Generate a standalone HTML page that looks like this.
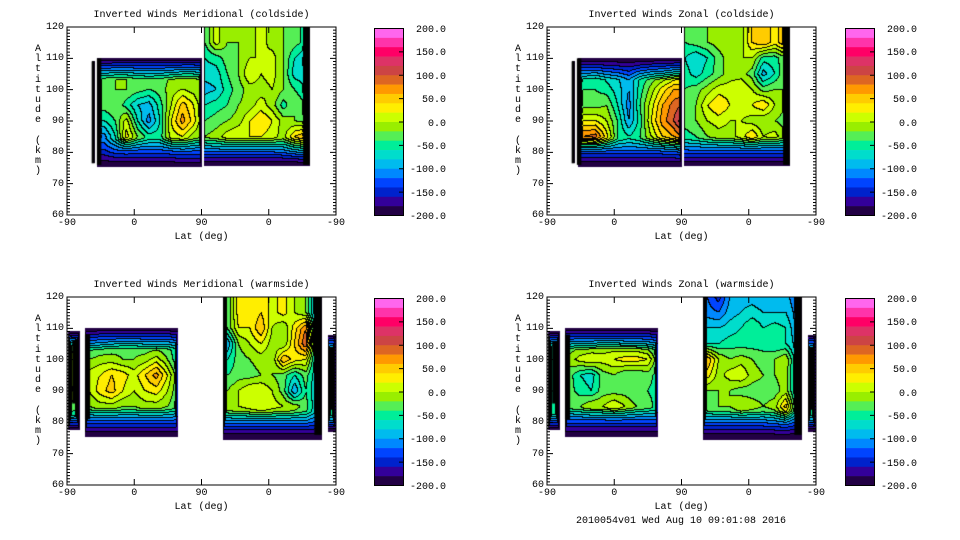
<!DOCTYPE html>
<html><head><meta charset="utf-8">
<style>
body{margin:0;background:#fff;width:960px;height:540px;overflow:hidden;position:relative;font-family:"Liberation Mono",monospace;font-size:10px;color:#000}
.abs{position:absolute;white-space:pre}
canvas{position:absolute}
</style></head><body>
<div id="root"></div>
<script>
// ---- colorbar data ----
const cbColors=["#ff66ee","#ff33aa","#ff0066","#dd3366","#cc4444","#dd6622","#ff9900","#ffcc00","#ffee00","#ccff00","#99ee00","#55ee55","#00ee99","#00ddcc","#00bbee","#0088ff","#0044ff","#0022cc","#330099","#220044"];
const cbTicks=[200,150,100,50,0,-50,-100,-150,-200];
const xTickLabels=["-90","0","90","0","-90"];
const xTickS=[0,90,180,270,360];
const yTicks=[120,110,100,90,80,70,60];
const titles=["Inverted Winds Meridional (coldside)","Inverted Winds Zonal (coldside)","Inverted Winds Meridional (warmside)","Inverted Winds Zonal (warmside)"];

// ---- field data ----
const colsA=[50,65,80,95,110,125,140,155,170,180];
const colsB=[185,200,215,230,245,260,275,290,305,320];
const rowsA=[110,105,100,95,90,85,80,75];
const rowsB=[120,115,110,105,100,95,90,85,80,75];
const colsWA=[30,45,60,75,90,105,120,135,150];
const colsWB=[215,230,245,260,275,290,305,320,335];
const rowsW=[120,115,110,105,100,95,90,85,80,75];
const colsSmallL=[4,15];const colsSmallR=[351,358];const rowsSmall=[110,100,90,80];

const p1A=[[-40,-30,-30,-30,-30,-30,-30,-20,-20,-30],[-30,-20,-20,-30,-30,-30,-20,-10,-10,-20],[-20,-20,-20,-30,-40,-30,-10,0,-10,-20],[-30,-20,-50,-80,-90,-50,0,50,20,-10],[-60,-40,10,-60,-110,-60,20,70,30,-10],[-110,-60,30,-20,-50,-50,10,20,-10,-20],[-100,-70,-60,-70,-70,-70,-60,-50,-60,-60],[-120,-90,-90,-90,-90,-90,-90,-80,-80,-80]];
const p1B=[[-40,10,-20,-20,-10,10,-10,-20,-30,-50],[-40,10,-20,-20,-10,10,-10,-20,-30,-50],[-60,-50,-30,-20,0,0,10,-20,-60,-80],[-70,-70,-40,-20,20,0,10,-20,-70,-70],[-90,-80,-50,-30,-10,-10,0,-20,-40,-60],[-60,-50,-40,-20,-10,10,-10,-50,-20,-40],[-40,-30,-20,-10,20,40,20,-10,-20,-30],[-20,-10,10,20,20,20,10,-10,40,60],[-40,-40,-40,-40,-40,-40,-40,-30,0,20],[-100,-100,-100,-100,-100,-100,-100,-100,-90,-90]];
const p2A=[[-90,-80,-90,-100,-110,-90,-70,-60,-40,-30],[-60,-50,-70,-80,-100,-60,-40,-30,-10,0],[-40,-40,-50,-70,-100,-50,-10,30,60,60],[-30,-30,-20,-60,-110,-40,10,60,90,100],[20,20,0,-40,-100,-50,20,70,100,130],[80,90,30,-40,-60,-40,0,40,60,80],[-60,-60,-60,-60,-60,-60,-60,-60,-50,-40],[-100,-100,-100,-100,-100,-100,-100,-100,-100,-100]];
const p2B=[[-40,-30,-20,-10,0,-10,40,60,30,60],[-40,-30,-20,-10,0,-10,40,60,30,60],[-60,-80,-60,-30,-10,0,0,-50,-50,-20],[-50,-70,-50,-30,-10,-10,-30,-90,-60,-20],[-40,-30,-10,10,10,20,0,-30,-20,-20],[-30,-20,20,40,20,10,20,40,0,-20],[-30,-20,0,10,0,0,-10,-20,-20,-30],[-50,-40,-20,-10,-10,10,40,0,10,-20],[-60,-60,-60,-60,-60,-60,-60,-60,-60,-60],[-100,-100,-100,-100,-100,-100,-100,-100,-100,-100]];
const p3A=[[-70,-60,-60,-60,-60,-60,-60,-60,-80],[-70,-60,-60,-60,-60,-60,-60,-60,-80],[-70,-60,-60,-60,-60,-60,-60,-60,-80],[-60,-50,-40,-30,-30,-40,-40,-40,-60],[-20,-10,-10,-20,-20,-10,10,-20,-60],[10,20,40,30,10,40,70,20,-40],[0,30,50,20,0,20,30,0,-40],[-20,-10,-10,-20,-20,-10,-10,-20,-40],[-60,-60,-60,-60,-60,-60,-60,-60,-70],[-100,-100,-100,-100,-100,-100,-100,-100,-100]];
const p3B=[[-40,30,20,40,10,30,0,-20,-100],[-40,30,20,40,10,30,0,-20,-100],[-40,20,20,60,0,-20,30,80,-100],[-100,-20,0,20,-10,-20,40,100,-80],[-60,-30,-20,-10,-20,60,30,20,-80],[-40,-30,-30,-20,-20,-30,-60,-30,-80],[-20,0,20,20,0,-30,-100,-40,-80],[-10,0,10,20,10,0,-10,-30,-80],[-50,-50,-50,-50,-50,-50,-50,-50,-80],[-100,-100,-100,-100,-100,-100,-100,-100,-110]];
const p4A=[[-70,-70,-70,-70,-70,-70,-70,-70,-80],[-70,-70,-70,-70,-70,-70,-70,-70,-80],[-60,-60,-60,-60,-60,-60,-60,-60,-80],[-40,-30,-30,-20,-20,-30,-30,-40,-60],[-10,10,20,10,20,30,30,20,-40],[-30,-60,-70,-30,-20,-40,-40,-30,-50],[-30,-50,-60,-30,-30,-30,-40,-40,-50],[-30,-20,0,0,20,0,-20,-30,-50],[-70,-70,-70,-70,-70,-70,-70,-70,-70],[-100,-100,-100,-100,-100,-100,-100,-100,-100]];
const p4B=[[-120,-150,-100,-90,-90,-100,-100,-90,-120],[-110,-120,-90,-80,-70,-80,-80,-80,-110],[-80,-80,-70,-60,-40,-60,-50,-60,-100],[-60,-60,-50,-50,-50,-50,-60,-60,-90],[60,0,-20,-10,-20,-30,-20,0,-80],[30,-10,10,20,-10,-20,-20,-10,-80],[-20,-20,-20,-30,-30,-30,-30,-10,-80],[-30,-20,-20,0,-10,-20,-10,50,-60],[-60,-60,-60,-60,-60,-60,-50,-30,-80],[-100,-100,-100,-100,-100,-100,-100,-100,-100]];
const smallCold=[[-60,-60],[-60,-60],[-60,-60],[-60,-60]];
const smallWarmM=[[-60,-60],[0,-20],[10,-20],[-60,-60]];
const smallWarmZ=[[-60,-60],[-40,-50],[-40,-50],[-60,-60]];

// dense-contour (black) bars: [s0,s1,altBottom,altTop]
const barsCold=[[33,37,76.5,109],[40,46,76,110],[316,325,76,120]];
const barsWarm=[[7,13,86,106],[24,31,81,108],[210,214,84,120],[331,341,76,120],[352,357,84,104]];

const panels=[
 {ox:67,oy:27,bars:barsCold,blocks:[
  {g:[33,37,76.5,109,2,2,2,2],c:colsSmallL,r:rowsSmall,v:smallCold},
  {g:[40,180,75.3,110,7,2,9,7],c:colsA,r:rowsA,v:p1A},
  {g:[183,325,75.5,121,2,9,9,0],c:colsB,r:rowsB,v:p1B}]},
 {ox:547,oy:27,bars:barsCold,blocks:[
  {g:[33,37,76.5,109,2,2,2,2],c:colsSmallL,r:rowsSmall,v:smallCold},
  {g:[41,180,75.3,110,7,2,9,7],c:colsA,r:rowsA,v:p2A},
  {g:[183,325,75.5,121,2,9,9,0],c:colsB,r:rowsB,v:p2B}]},
 {ox:67,oy:297,bars:barsWarm,blocks:[
  {g:[2,17,77.5,109,5,5,5,5],c:colsSmallL,r:rowsSmall,v:smallWarmM},
  {g:[24,149,75.4,110,7,4,9,7],c:colsWA,r:rowsW,v:p3A},
  {g:[209,341,74.5,121,5,10,9,0],c:colsWB,r:rowsW,v:p3B},
  {g:[349,360,77,108,4,4,5,5],c:colsSmallR,r:rowsSmall,v:smallCold}]},
 {ox:547,oy:297,bars:barsWarm,blocks:[
  {g:[2,17,77.5,109,5,5,5,5],c:colsSmallL,r:rowsSmall,v:smallWarmZ},
  {g:[24,149,75.4,110,7,4,9,7],c:colsWA,r:rowsW,v:p4A},
  {g:[209,341,74.5,121,5,10,9,0],c:colsWB,r:rowsW,v:p4B},
  {g:[349,360,77,108,4,4,5,5],c:colsSmallR,r:rowsSmall,v:smallCold}]}
];

const W=269,H=188;
const sx=s=>s*W/360, ya=a=>(120-a)*H/60;
function interp(arr,x){
  const n=arr.length;
  const asc=arr[n-1]>arr[0];
  for(let i=0;i<n-1;i++){
    const a=arr[i],b=arr[i+1];
    if((asc&&x<=b)||(!asc&&x>=b)){let t=(x-a)/(b-a);return [i,Math.max(0,Math.min(1,t))];}
  }
  return [n-2,1];
}
function valueAt(blk,s,alt){
  const [s0,s1,a0,a1,wl,wr,wb,wt]=blk.g;
  if(s<s0||s>s1||alt<a0||alt>a1) return null;
  const [ci,ct]=interp(blk.c,Math.max(blk.c[0],Math.min(blk.c[blk.c.length-1],s)));
  const [ri,rt]=interp(blk.r,alt);
  const v=blk.v;
  const v0=v[ri][ci]*(1-ct)+v[ri][ci+1]*ct;
  const v1=v[ri+1][ci]*(1-ct)+v[ri+1][ci+1]*ct;
  const vi=v0*(1-rt)+v1*rt;
  let f=1;
  f=Math.min(f,(s-s0)/wl,(s1-s)/wr,(alt-a0)/wb);
  if(wt>0) f=Math.min(f,(a1-alt)/wt);
  return -200+(vi+200)*Math.max(0,f);
}
function rgb(h){return [parseInt(h.slice(1,3),16),parseInt(h.slice(3,5),16),parseInt(h.slice(5,7),16)];}
const cbRGB=cbColors.map(rgb);

const root=document.getElementById('root');
function addText(txt,x,y,name,align){
  const d=document.createElement('div');
  d.className='abs';d.textContent=txt;
  
  
  d.style.top=y+'px';
  if(align==='c'){d.style.left=(x-200)+'px';d.style.width='400px';d.style.textAlign='center';}
  else if(align==='r'){d.style.left=(x-100)+'px';d.style.width='100px';d.style.textAlign='right';}
  else d.style.left=x+'px';
  root.appendChild(d);return d;
}

panels.forEach((p,pi)=>{
  const cv=document.createElement('canvas');
  cv.width=W;cv.height=H;cv.style.left=p.ox+'px';cv.style.top=p.oy+'px';
  
  
  root.appendChild(cv);
  const ctx=cv.getContext('2d');
  const lev=new Int16Array(W*H).fill(-1);
  for(let y=0;y<H;y++){const alt=120-(y+0.5)*60/H;
    for(let x=0;x<W;x++){const s=(x+0.5)*360/W;
      for(const b of p.blocks){const v=valueAt(b,s,alt);
        if(v!==null){lev[y*W+x]=Math.max(0,Math.min(19,Math.floor((v+200)/20)));break;}}}}
  const img=ctx.createImageData(W,H);
  for(let y=0;y<H;y++)for(let x=0;x<W;x++){
    const i=y*W+x,L=lev[i];let c=[255,255,255];
    if(L>=0){c=cbRGB[19-L];
      const r=x<W-1?lev[i+1]:L,d=y<H-1?lev[i+W]:L;
      if((r>=0&&r!==L)||(d>=0&&d!==L))c=[0,0,0];}
    img.data[i*4]=c[0];img.data[i*4+1]=c[1];img.data[i*4+2]=c[2];img.data[i*4+3]=255;}
  ctx.putImageData(img,0,0);
  ctx.fillStyle='#000';
  p.bars.forEach(b=>{ctx.fillRect(sx(b[0]),ya(b[3]),sx(b[1])-sx(b[0]),ya(b[2])-ya(b[3]));});

  const NS='http://www.w3.org/2000/svg';
  const svg=document.createElementNS(NS,'svg');
  svg.setAttribute('width',W+2);svg.setAttribute('height',H+2);
  svg.style.position='absolute';svg.style.left=(p.ox-1)+'px';svg.style.top=(p.oy-1)+'px';
  
  
  let d=`M1,1H${W+1}V${H+1}H1Z`;
  for(let a=60;a<=120;a++){const y=ya(a)+1,len=(a%10===0)?6:3;d+=`M1,${y}h${len}M${W+1},${y}h-${len}`;}
  xTickS.forEach(s=>{const x=sx(s)+1;d+=`M${x},${H+1}v-6M${x},1v6`;});
  const path=document.createElementNS(NS,'path');
  path.setAttribute('d',d);path.setAttribute('stroke','#000');path.setAttribute('fill','none');path.setAttribute('stroke-width','1');
  
  
  svg.appendChild(path);root.appendChild(svg);

  addText(titles[pi],p.ox+W/2,p.oy-17,'plot-title','c');
  xTickLabels.forEach((t,k)=>addText(t,p.ox+sx(xTickS[k]),p.oy+H+3,'x-tick-label','c'));
  yTicks.forEach(a=>addText(String(a),p.ox-3,p.oy+ya(a)-5,'y-tick-label','r'));
  addText('Lat (deg)',p.ox+W/2,p.oy+H+17,'x-axis-title','c');
  const yt=document.createElement('div');yt.className='abs';
  
  
  yt.style.left=(p.ox-34)+'px';yt.style.top=(p.oy+18)+'px';yt.style.lineHeight='10.2px';yt.style.width='10px';yt.style.textAlign='center';
  yt.innerHTML='A<br>l<br>t<br>i<br>t<br>u<br>d<br>e<br><br>(<br>k<br>m<br>)';
  root.appendChild(yt);

  const cbx=(pi%2===0)?374:845, cby=p.oy+1, cbh=187, cbw=29;
  const cb=document.createElementNS(NS,'svg');
  cb.setAttribute('width',cbw+1);cb.setAttribute('height',cbh+1);
  cb.style.position='absolute';cb.style.left=cbx+'px';cb.style.top=cby+'px';
  
  
  cbColors.forEach((c,k)=>{const r=document.createElementNS(NS,'rect');
    r.setAttribute('x',0.5);r.setAttribute('y',0.5+k*cbh/20);r.setAttribute('width',cbw);r.setAttribute('height',cbh/20+0.3);r.setAttribute('fill',c);
    
    
    cb.appendChild(r);});
  const fr=document.createElementNS(NS,'rect');fr.setAttribute('x',0.5);fr.setAttribute('y',0.5);fr.setAttribute('width',cbw);fr.setAttribute('height',cbh);fr.setAttribute('fill','none');fr.setAttribute('stroke','#000');
  cb.appendChild(fr);
  let td='';cbTicks.forEach((v,k)=>{const y=0.5+k*cbh/8;td+=`M${cbw-4},${y}h4`;});
  const tp=document.createElementNS(NS,'path');tp.setAttribute('d',td);tp.setAttribute('stroke','#000');cb.appendChild(tp);
  root.appendChild(cb);
  cbTicks.forEach((v,k)=>addText(v.toFixed(1),cbx+72,cby+k*cbh/8-3,'colorbar-label','r'));
});
addText('2010054v01 Wed Aug 10 09:01:08 2016',681,516,'timestamp-footer','c');
</script>
</body></html>
